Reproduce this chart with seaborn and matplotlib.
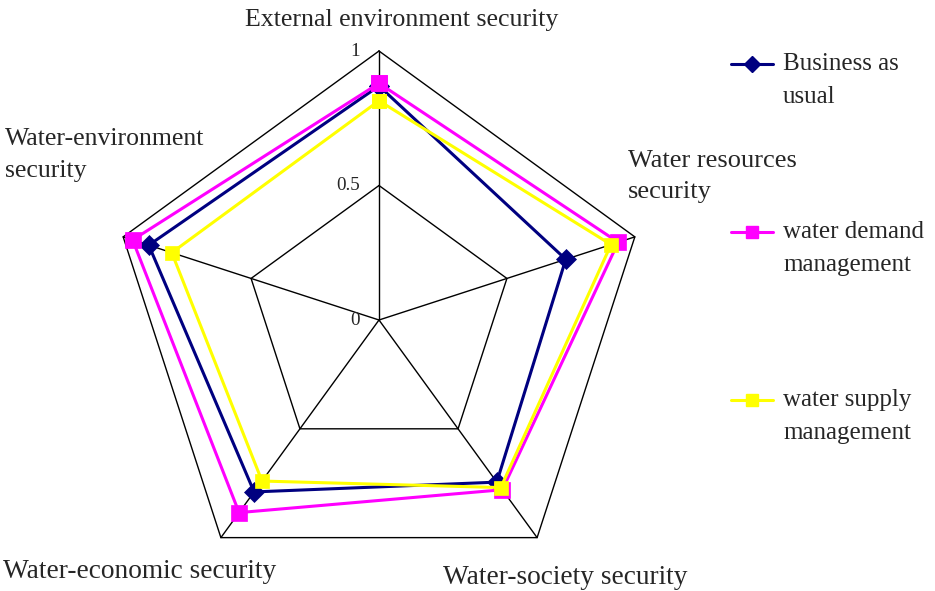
import numpy as np
import pandas as pd
import matplotlib
matplotlib.use("Agg")
import matplotlib.pyplot as plt
import seaborn as sns

# data
categories = ["External environment security", "Water resources security",
              "Water-society security", "Water-economic security",
              "Water-environment security"]
business_as_usual = [0.87, 0.73, 0.745, 0.79, 0.90]
water_demand = [0.88, 0.935, 0.78, 0.885, 0.963]
water_supply = [0.815, 0.907, 0.77, 0.74, 0.81]
series_names = ["Business as\nusual", "water demand\nmanagement", "water supply\nmanagement"]
tick_values = [0, 0.5, 1]
tick_labels = ["0", "0.5", "1"]
grid_levels = [0.5, 1]

sns.set_theme(style="white")
plt.rcParams['font.family'] = ['Liberation Serif', 'DejaVu Serif']

W, H = 935, 591
cx, cy, R = 379, 320, 269  # centre and radius in pixels

# angles clockwise from the top
angles = np.deg2rad(90 - 72 * np.arange(len(categories)))

rows = []
for name, vals in zip(series_names, [business_as_usual, water_demand, water_supply]):
    for k in list(range(len(categories))) + [0]:
        rows.append({"series": name, "category": categories[k], "value": vals[k],
                     "x": vals[k] * np.cos(angles[k]), "y": vals[k] * np.sin(angles[k])})
df = pd.DataFrame(rows)

fig = plt.figure(figsize=(W / 100, H / 100), dpi=100)
ax = fig.add_axes([0, 0, 1, 1])
ax.set_xlim(-cx / R, (W - cx) / R)
ax.set_ylim(-(H - cy) / R, cy / R)
ax.axis("off")

# pentagon grid and spokes
closed = np.append(angles, angles[0])
for lev in grid_levels:
    ax.plot(lev * np.cos(closed), lev * np.sin(closed), color="black", lw=1.0, zorder=1)
for a in angles:
    ax.plot([0, np.cos(a)], [0, np.sin(a)], color="black", lw=1.0, zorder=1)

for v, t in zip(tick_values, tick_labels):
    ax.text(-0.07, v, t, ha="right", va="center", fontsize=13.8)

styles = {
    series_names[0]: dict(color="#000080", marker="D", ms=10.5),
    series_names[1]: dict(color="#FF00FF", marker="s", ms=11),
    series_names[2]: dict(color="#FFFF00", marker="s", ms=10.5),
}
for i, name in enumerate(series_names):
    st = styles[name]
    sns.lineplot(data=df[df["series"] == name], x="x", y="y", sort=False,
                 estimator=None, color=st["color"], marker=st["marker"],
                 markersize=st["ms"], markeredgecolor=st["color"],
                 markeredgewidth=0.5, linewidth=2.2, ax=ax, legend=False,
                 zorder=3 + i)

# category labels (pixel positions)
fs = 18
ls = 1.62
fig.text(401.5 / W, 1 - 20 / H, categories[0], ha="center", va="center", fontsize=18.6)
fig.text(628 / W, 1 - 176.5 / H, "Water resources\nsecurity", ha="left", va="center",
         fontsize=19, linespacing=1.54)
fig.text(5 / W, 1 - 155 / H, "Water-environment\nsecurity", ha="left", va="center",
         fontsize=18.5, linespacing=1.58)
fig.text(3 / W, 1 - 572 / H, categories[3], ha="left", va="center", fontsize=19.7)
fig.text(565 / W, 1 - 578 / H, categories[2], ha="center", va="center", fontsize=19.7)

# legend drawn by hand to keep the handle beside the first line
leg_y = [64, 232, 400]
for name, y in zip(series_names, leg_y):
    st = styles[name]
    yf = 1 - y / H
    fig.lines.append(plt.Line2D([731 / W, 773 / W], [yf, yf], transform=fig.transFigure,
                                color=st["color"], lw=2.2))
    fig.lines.append(plt.Line2D([752 / W], [yf], transform=fig.transFigure,
                                color=st["color"], marker=st["marker"],
                                ms=st["ms"] * 0.8, markeredgecolor=st["color"]))
    fig.text(783 / W, 1 - (y + 16.5) / H, name, ha="left", va="center", fontsize=fs,
             linespacing=ls, transform=fig.transFigure)

fig.savefig("out.png", dpi=100)
